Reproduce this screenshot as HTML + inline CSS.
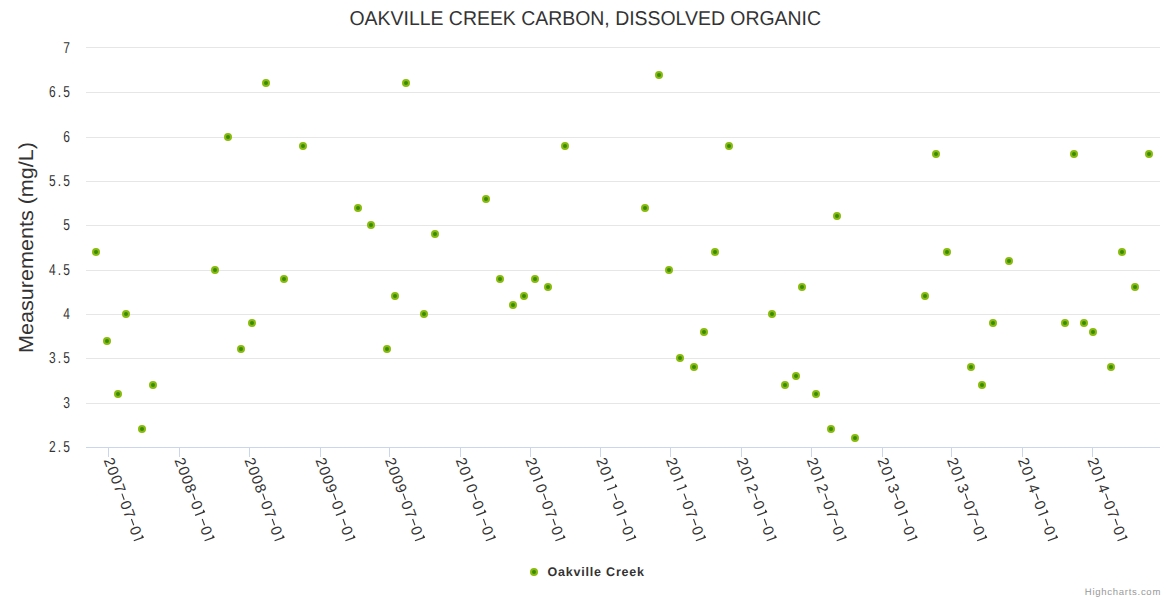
<!DOCTYPE html><html><head><meta charset="utf-8"><title>Oakville Creek Carbon, Dissolved Organic</title>
<style>html,body{margin:0;padding:0;background:#fff;width:1170px;height:600px;overflow:hidden}svg{display:block}text{font-family:"Liberation Sans", sans-serif;text-rendering:geometricPrecision}</style></head><body>
<svg width="1170" height="600" viewBox="0 0 1170 600">
<rect width="1170" height="600" fill="#ffffff"/>
<rect x="86" y="47" width="1074" height="1" fill="#e6e6e6"/>
<rect x="86" y="92" width="1074" height="1" fill="#e6e6e6"/>
<rect x="86" y="137" width="1074" height="1" fill="#e6e6e6"/>
<rect x="86" y="181" width="1074" height="1" fill="#e6e6e6"/>
<rect x="86" y="225" width="1074" height="1" fill="#e6e6e6"/>
<rect x="86" y="270" width="1074" height="1" fill="#e6e6e6"/>
<rect x="86" y="314" width="1074" height="1" fill="#e6e6e6"/>
<rect x="86" y="358" width="1074" height="1" fill="#e6e6e6"/>
<rect x="86" y="403" width="1074" height="1" fill="#e6e6e6"/>
<rect x="86" y="447" width="1074" height="1" fill="#ccd6eb"/>
<rect x="108" y="447" width="1" height="10" fill="#ccd6eb"/>
<rect x="179" y="447" width="1" height="10" fill="#ccd6eb"/>
<rect x="249" y="447" width="1" height="10" fill="#ccd6eb"/>
<rect x="320" y="447" width="1" height="10" fill="#ccd6eb"/>
<rect x="389" y="447" width="1" height="10" fill="#ccd6eb"/>
<rect x="460" y="447" width="1" height="10" fill="#ccd6eb"/>
<rect x="530" y="447" width="1" height="10" fill="#ccd6eb"/>
<rect x="600" y="447" width="1" height="10" fill="#ccd6eb"/>
<rect x="670" y="447" width="1" height="10" fill="#ccd6eb"/>
<rect x="741" y="447" width="1" height="10" fill="#ccd6eb"/>
<rect x="811" y="447" width="1" height="10" fill="#ccd6eb"/>
<rect x="882" y="447" width="1" height="10" fill="#ccd6eb"/>
<rect x="951" y="447" width="1" height="10" fill="#ccd6eb"/>
<rect x="1022" y="447" width="1" height="10" fill="#ccd6eb"/>
<rect x="1092" y="447" width="1" height="10" fill="#ccd6eb"/>
<text transform="scale(0.76 1)" x="87.63" y="53.00" font-size="15.8" fill="#333333" text-anchor="middle">7</text>
<text transform="scale(0.76 1)" x="68.92 78.28 87.63" y="97.33" font-size="15.8" fill="#333333" text-anchor="middle">6.5</text>
<text transform="scale(0.76 1)" x="87.63" y="141.66" font-size="15.8" fill="#333333" text-anchor="middle">6</text>
<text transform="scale(0.76 1)" x="68.92 78.28 87.63" y="185.99" font-size="15.8" fill="#333333" text-anchor="middle">5.5</text>
<text transform="scale(0.76 1)" x="87.63" y="230.32" font-size="15.8" fill="#333333" text-anchor="middle">5</text>
<text transform="scale(0.76 1)" x="68.92 78.28 87.63" y="274.65" font-size="15.8" fill="#333333" text-anchor="middle">4.5</text>
<text transform="scale(0.76 1)" x="87.63" y="318.98" font-size="15.8" fill="#333333" text-anchor="middle">4</text>
<text transform="scale(0.76 1)" x="68.92 78.28 87.63" y="363.31" font-size="15.8" fill="#333333" text-anchor="middle">3.5</text>
<text transform="scale(0.76 1)" x="87.63" y="407.64" font-size="15.8" fill="#333333" text-anchor="middle">3</text>
<text transform="scale(0.76 1)" x="68.92 78.28 87.63" y="451.97" font-size="15.8" fill="#333333" text-anchor="middle">2.5</text>
<g transform="translate(103.35 459.40) rotate(69.5)" fill="#333333"><text x="0.54 9.96 19.38 28.80 46.55 55.97 73.72" y="0" font-size="15">2007070</text><rect x="38.55" y="-5.95" width="6.60" height="1.10"/><rect x="65.72" y="-5.95" width="6.60" height="1.10"/><path d="M86.31 -10.60L87.51 -10.60L87.51 0.00L87.51 0L86.31 0L86.31 -8.40L83.91 -9.70Z"/></g>
<g transform="translate(174.15 459.40) rotate(69.5)" fill="#333333"><text x="0.54 9.96 19.38 28.80 46.55 73.72" y="0" font-size="15">200800</text><rect x="38.55" y="-5.95" width="6.60" height="1.10"/><rect x="65.72" y="-5.95" width="6.60" height="1.10"/><path d="M59.14 -10.60L60.34 -10.60L60.34 0.00L60.34 0L59.14 0L59.14 -8.40L56.74 -9.70Z"/><path d="M86.31 -10.60L87.51 -10.60L87.51 0.00L87.51 0L86.31 0L86.31 -8.40L83.91 -9.70Z"/></g>
<g transform="translate(244.15 459.40) rotate(69.5)" fill="#333333"><text x="0.54 9.96 19.38 28.80 46.55 55.97 73.72" y="0" font-size="15">2008070</text><rect x="38.55" y="-5.95" width="6.60" height="1.10"/><rect x="65.72" y="-5.95" width="6.60" height="1.10"/><path d="M86.31 -10.60L87.51 -10.60L87.51 0.00L87.51 0L86.31 0L86.31 -8.40L83.91 -9.70Z"/></g>
<g transform="translate(314.95 459.40) rotate(69.5)" fill="#333333"><text x="0.54 9.96 19.38 28.80 46.55 73.72" y="0" font-size="15">200900</text><rect x="38.55" y="-5.95" width="6.60" height="1.10"/><rect x="65.72" y="-5.95" width="6.60" height="1.10"/><path d="M59.14 -10.60L60.34 -10.60L60.34 0.00L60.34 0L59.14 0L59.14 -8.40L56.74 -9.70Z"/><path d="M86.31 -10.60L87.51 -10.60L87.51 0.00L87.51 0L86.31 0L86.31 -8.40L83.91 -9.70Z"/></g>
<g transform="translate(384.55 459.40) rotate(69.5)" fill="#333333"><text x="0.54 9.96 19.38 28.80 46.55 55.97 73.72" y="0" font-size="15">2009070</text><rect x="38.55" y="-5.95" width="6.60" height="1.10"/><rect x="65.72" y="-5.95" width="6.60" height="1.10"/><path d="M86.31 -10.60L87.51 -10.60L87.51 0.00L87.51 0L86.31 0L86.31 -8.40L83.91 -9.70Z"/></g>
<g transform="translate(455.35 459.40) rotate(69.5)" fill="#333333"><text x="0.54 9.96 28.80 46.55 73.72" y="0" font-size="15">20000</text><rect x="38.55" y="-5.95" width="6.60" height="1.10"/><rect x="65.72" y="-5.95" width="6.60" height="1.10"/><path d="M22.55 -10.60L23.75 -10.60L23.75 0.00L23.75 0L22.55 0L22.55 -8.40L20.15 -9.70Z"/><path d="M59.14 -10.60L60.34 -10.60L60.34 0.00L60.34 0L59.14 0L59.14 -8.40L56.74 -9.70Z"/><path d="M86.31 -10.60L87.51 -10.60L87.51 0.00L87.51 0L86.31 0L86.31 -8.40L83.91 -9.70Z"/></g>
<g transform="translate(524.95 459.40) rotate(69.5)" fill="#333333"><text x="0.54 9.96 28.80 46.55 55.97 73.72" y="0" font-size="15">200070</text><rect x="38.55" y="-5.95" width="6.60" height="1.10"/><rect x="65.72" y="-5.95" width="6.60" height="1.10"/><path d="M22.55 -10.60L23.75 -10.60L23.75 0.00L23.75 0L22.55 0L22.55 -8.40L20.15 -9.70Z"/><path d="M86.31 -10.60L87.51 -10.60L87.51 0.00L87.51 0L86.31 0L86.31 -8.40L83.91 -9.70Z"/></g>
<g transform="translate(595.75 459.40) rotate(69.5)" fill="#333333"><text x="0.54 9.96 46.55 73.72" y="0" font-size="15">2000</text><rect x="38.55" y="-5.95" width="6.60" height="1.10"/><rect x="65.72" y="-5.95" width="6.60" height="1.10"/><path d="M22.55 -10.60L23.75 -10.60L23.75 0.00L23.75 0L22.55 0L22.55 -8.40L20.15 -9.70Z"/><path d="M31.97 -10.60L33.17 -10.60L33.17 0.00L33.17 0L31.97 0L31.97 -8.40L29.57 -9.70Z"/><path d="M59.14 -10.60L60.34 -10.60L60.34 0.00L60.34 0L59.14 0L59.14 -8.40L56.74 -9.70Z"/><path d="M86.31 -10.60L87.51 -10.60L87.51 0.00L87.51 0L86.31 0L86.31 -8.40L83.91 -9.70Z"/></g>
<g transform="translate(665.45 459.40) rotate(69.5)" fill="#333333"><text x="0.54 9.96 46.55 55.97 73.72" y="0" font-size="15">20070</text><rect x="38.55" y="-5.95" width="6.60" height="1.10"/><rect x="65.72" y="-5.95" width="6.60" height="1.10"/><path d="M22.55 -10.60L23.75 -10.60L23.75 0.00L23.75 0L22.55 0L22.55 -8.40L20.15 -9.70Z"/><path d="M31.97 -10.60L33.17 -10.60L33.17 0.00L33.17 0L31.97 0L31.97 -8.40L29.57 -9.70Z"/><path d="M86.31 -10.60L87.51 -10.60L87.51 0.00L87.51 0L86.31 0L86.31 -8.40L83.91 -9.70Z"/></g>
<g transform="translate(736.25 459.40) rotate(69.5)" fill="#333333"><text x="0.54 9.96 28.80 46.55 73.72" y="0" font-size="15">20200</text><rect x="38.55" y="-5.95" width="6.60" height="1.10"/><rect x="65.72" y="-5.95" width="6.60" height="1.10"/><path d="M22.55 -10.60L23.75 -10.60L23.75 0.00L23.75 0L22.55 0L22.55 -8.40L20.15 -9.70Z"/><path d="M59.14 -10.60L60.34 -10.60L60.34 0.00L60.34 0L59.14 0L59.14 -8.40L56.74 -9.70Z"/><path d="M86.31 -10.60L87.51 -10.60L87.51 0.00L87.51 0L86.31 0L86.31 -8.40L83.91 -9.70Z"/></g>
<g transform="translate(806.25 459.40) rotate(69.5)" fill="#333333"><text x="0.54 9.96 28.80 46.55 55.97 73.72" y="0" font-size="15">202070</text><rect x="38.55" y="-5.95" width="6.60" height="1.10"/><rect x="65.72" y="-5.95" width="6.60" height="1.10"/><path d="M22.55 -10.60L23.75 -10.60L23.75 0.00L23.75 0L22.55 0L22.55 -8.40L20.15 -9.70Z"/><path d="M86.31 -10.60L87.51 -10.60L87.51 0.00L87.51 0L86.31 0L86.31 -8.40L83.91 -9.70Z"/></g>
<g transform="translate(877.05 459.40) rotate(69.5)" fill="#333333"><text x="0.54 9.96 28.80 46.55 73.72" y="0" font-size="15">20300</text><rect x="38.55" y="-5.95" width="6.60" height="1.10"/><rect x="65.72" y="-5.95" width="6.60" height="1.10"/><path d="M22.55 -10.60L23.75 -10.60L23.75 0.00L23.75 0L22.55 0L22.55 -8.40L20.15 -9.70Z"/><path d="M59.14 -10.60L60.34 -10.60L60.34 0.00L60.34 0L59.14 0L59.14 -8.40L56.74 -9.70Z"/><path d="M86.31 -10.60L87.51 -10.60L87.51 0.00L87.51 0L86.31 0L86.31 -8.40L83.91 -9.70Z"/></g>
<g transform="translate(946.65 459.40) rotate(69.5)" fill="#333333"><text x="0.54 9.96 28.80 46.55 55.97 73.72" y="0" font-size="15">203070</text><rect x="38.55" y="-5.95" width="6.60" height="1.10"/><rect x="65.72" y="-5.95" width="6.60" height="1.10"/><path d="M22.55 -10.60L23.75 -10.60L23.75 0.00L23.75 0L22.55 0L22.55 -8.40L20.15 -9.70Z"/><path d="M86.31 -10.60L87.51 -10.60L87.51 0.00L87.51 0L86.31 0L86.31 -8.40L83.91 -9.70Z"/></g>
<g transform="translate(1017.45 459.40) rotate(69.5)" fill="#333333"><text x="0.54 9.96 28.80 46.55 73.72" y="0" font-size="15">20400</text><rect x="38.55" y="-5.95" width="6.60" height="1.10"/><rect x="65.72" y="-5.95" width="6.60" height="1.10"/><path d="M22.55 -10.60L23.75 -10.60L23.75 0.00L23.75 0L22.55 0L22.55 -8.40L20.15 -9.70Z"/><path d="M59.14 -10.60L60.34 -10.60L60.34 0.00L60.34 0L59.14 0L59.14 -8.40L56.74 -9.70Z"/><path d="M86.31 -10.60L87.51 -10.60L87.51 0.00L87.51 0L86.31 0L86.31 -8.40L83.91 -9.70Z"/></g>
<g transform="translate(1087.05 459.40) rotate(69.5)" fill="#333333"><text x="0.54 9.96 28.80 46.55 55.97 73.72" y="0" font-size="15">204070</text><rect x="38.55" y="-5.95" width="6.60" height="1.10"/><rect x="65.72" y="-5.95" width="6.60" height="1.10"/><path d="M22.55 -10.60L23.75 -10.60L23.75 0.00L23.75 0L22.55 0L22.55 -8.40L20.15 -9.70Z"/><path d="M86.31 -10.60L87.51 -10.60L87.51 0.00L87.51 0L86.31 0L86.31 -8.40L83.91 -9.70Z"/></g>
<text x="349.50" y="24.60" font-size="20" fill="#333333" textLength="471.50" lengthAdjust="spacingAndGlyphs">OAKVILLE CREEK CARBON, DISSOLVED ORGANIC</text>
<text transform="translate(32.60 353.00) rotate(-90)" font-size="20.3" fill="#333333" textLength="211.00" lengthAdjust="spacingAndGlyphs">Measurements (mg/L)</text>
<circle cx="96" cy="252" r="3" fill="#388a0a" stroke="#89bb0c" stroke-width="2"/>
<circle cx="107" cy="341" r="3" fill="#388a0a" stroke="#89bb0c" stroke-width="2"/>
<circle cx="118" cy="394" r="3" fill="#388a0a" stroke="#89bb0c" stroke-width="2"/>
<circle cx="126" cy="314" r="3" fill="#388a0a" stroke="#89bb0c" stroke-width="2"/>
<circle cx="142" cy="429" r="3" fill="#388a0a" stroke="#89bb0c" stroke-width="2"/>
<circle cx="153" cy="385" r="3" fill="#388a0a" stroke="#89bb0c" stroke-width="2"/>
<circle cx="215" cy="270" r="3" fill="#388a0a" stroke="#89bb0c" stroke-width="2"/>
<circle cx="228" cy="137" r="3" fill="#388a0a" stroke="#89bb0c" stroke-width="2"/>
<circle cx="241" cy="349" r="3" fill="#388a0a" stroke="#89bb0c" stroke-width="2"/>
<circle cx="252" cy="323" r="3" fill="#388a0a" stroke="#89bb0c" stroke-width="2"/>
<circle cx="266" cy="83" r="3" fill="#388a0a" stroke="#89bb0c" stroke-width="2"/>
<circle cx="284" cy="279" r="3" fill="#388a0a" stroke="#89bb0c" stroke-width="2"/>
<circle cx="303" cy="146" r="3" fill="#388a0a" stroke="#89bb0c" stroke-width="2"/>
<circle cx="358" cy="208" r="3" fill="#388a0a" stroke="#89bb0c" stroke-width="2"/>
<circle cx="371" cy="225" r="3" fill="#388a0a" stroke="#89bb0c" stroke-width="2"/>
<circle cx="387" cy="349" r="3" fill="#388a0a" stroke="#89bb0c" stroke-width="2"/>
<circle cx="395" cy="296" r="3" fill="#388a0a" stroke="#89bb0c" stroke-width="2"/>
<circle cx="406" cy="83" r="3" fill="#388a0a" stroke="#89bb0c" stroke-width="2"/>
<circle cx="424" cy="314" r="3" fill="#388a0a" stroke="#89bb0c" stroke-width="2"/>
<circle cx="435" cy="234" r="3" fill="#388a0a" stroke="#89bb0c" stroke-width="2"/>
<circle cx="486" cy="199" r="3" fill="#388a0a" stroke="#89bb0c" stroke-width="2"/>
<circle cx="500" cy="279" r="3" fill="#388a0a" stroke="#89bb0c" stroke-width="2"/>
<circle cx="513" cy="305" r="3" fill="#388a0a" stroke="#89bb0c" stroke-width="2"/>
<circle cx="524" cy="296" r="3" fill="#388a0a" stroke="#89bb0c" stroke-width="2"/>
<circle cx="535" cy="279" r="3" fill="#388a0a" stroke="#89bb0c" stroke-width="2"/>
<circle cx="548" cy="287" r="3" fill="#388a0a" stroke="#89bb0c" stroke-width="2"/>
<circle cx="565" cy="146" r="3" fill="#388a0a" stroke="#89bb0c" stroke-width="2"/>
<circle cx="645" cy="208" r="3" fill="#388a0a" stroke="#89bb0c" stroke-width="2"/>
<circle cx="659" cy="75" r="3" fill="#388a0a" stroke="#89bb0c" stroke-width="2"/>
<circle cx="669" cy="270" r="3" fill="#388a0a" stroke="#89bb0c" stroke-width="2"/>
<circle cx="680" cy="358" r="3" fill="#388a0a" stroke="#89bb0c" stroke-width="2"/>
<circle cx="694" cy="367" r="3" fill="#388a0a" stroke="#89bb0c" stroke-width="2"/>
<circle cx="704" cy="332" r="3" fill="#388a0a" stroke="#89bb0c" stroke-width="2"/>
<circle cx="715" cy="252" r="3" fill="#388a0a" stroke="#89bb0c" stroke-width="2"/>
<circle cx="729" cy="146" r="3" fill="#388a0a" stroke="#89bb0c" stroke-width="2"/>
<circle cx="772" cy="314" r="3" fill="#388a0a" stroke="#89bb0c" stroke-width="2"/>
<circle cx="785" cy="385" r="3" fill="#388a0a" stroke="#89bb0c" stroke-width="2"/>
<circle cx="796" cy="376" r="3" fill="#388a0a" stroke="#89bb0c" stroke-width="2"/>
<circle cx="802" cy="287" r="3" fill="#388a0a" stroke="#89bb0c" stroke-width="2"/>
<circle cx="816" cy="394" r="3" fill="#388a0a" stroke="#89bb0c" stroke-width="2"/>
<circle cx="831" cy="429" r="3" fill="#388a0a" stroke="#89bb0c" stroke-width="2"/>
<circle cx="837" cy="216" r="3" fill="#388a0a" stroke="#89bb0c" stroke-width="2"/>
<circle cx="855" cy="438" r="3" fill="#388a0a" stroke="#89bb0c" stroke-width="2"/>
<circle cx="925" cy="296" r="3" fill="#388a0a" stroke="#89bb0c" stroke-width="2"/>
<circle cx="936" cy="154" r="3" fill="#388a0a" stroke="#89bb0c" stroke-width="2"/>
<circle cx="947" cy="252" r="3" fill="#388a0a" stroke="#89bb0c" stroke-width="2"/>
<circle cx="971" cy="367" r="3" fill="#388a0a" stroke="#89bb0c" stroke-width="2"/>
<circle cx="982" cy="385" r="3" fill="#388a0a" stroke="#89bb0c" stroke-width="2"/>
<circle cx="993" cy="323" r="3" fill="#388a0a" stroke="#89bb0c" stroke-width="2"/>
<circle cx="1009" cy="261" r="3" fill="#388a0a" stroke="#89bb0c" stroke-width="2"/>
<circle cx="1065" cy="323" r="3" fill="#388a0a" stroke="#89bb0c" stroke-width="2"/>
<circle cx="1074" cy="154" r="3" fill="#388a0a" stroke="#89bb0c" stroke-width="2"/>
<circle cx="1084" cy="323" r="3" fill="#388a0a" stroke="#89bb0c" stroke-width="2"/>
<circle cx="1093" cy="332" r="3" fill="#388a0a" stroke="#89bb0c" stroke-width="2"/>
<circle cx="1111" cy="367" r="3" fill="#388a0a" stroke="#89bb0c" stroke-width="2"/>
<circle cx="1122" cy="252" r="3" fill="#388a0a" stroke="#89bb0c" stroke-width="2"/>
<circle cx="1135" cy="287" r="3" fill="#388a0a" stroke="#89bb0c" stroke-width="2"/>
<circle cx="1149" cy="154" r="3" fill="#388a0a" stroke="#89bb0c" stroke-width="2"/>
<circle cx="534" cy="572" r="3" fill="#388a0a" stroke="#89bb0c" stroke-width="2"/>
<text x="547.50" y="575.70" font-size="12.5" font-weight="bold" fill="#333333" textLength="96.50" lengthAdjust="spacing">Oakville Creek</text>
<text x="1084.80" y="595.00" font-size="9.5" fill="#999999" textLength="75.50" lengthAdjust="spacing">Highcharts.com</text>
</svg></body></html>
